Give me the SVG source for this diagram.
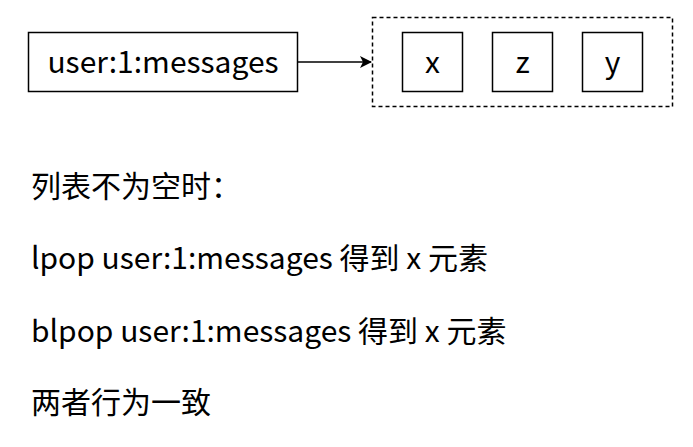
<svg xmlns="http://www.w3.org/2000/svg" width="693" height="447" viewBox="0 0 693 447">
<style>
.box{fill:#fff;stroke:#000;stroke-width:1.5}
.t{font-family:"Noto Sans CJK SC","Noto Sans",sans-serif;font-size:30px;fill:#000}
.c{text-anchor:middle}
</style>
<defs>
<marker id="ah" markerWidth="12" markerHeight="12" refX="11" refY="6" orient="auto" markerUnits="userSpaceOnUse">
<path d="M0,0 L12,6 L0,12 L3,6 Z" fill="#000"/>
</marker>
</defs>
<rect width="693" height="447" fill="#fff"/>
<g id="list">
<rect x="372.5" y="17.5" width="300" height="89" fill="none" stroke="#000" stroke-width="1.5" stroke-dasharray="4,3"/>
</g>
<g id="key">
<rect class="box" x="28.5" y="32.5" width="269" height="59"/>
<text class="t c" x="163" y="73">user:1:messages</text>
</g>
<g id="x">
<rect class="box" x="402.5" y="32.5" width="60" height="59"/>
<text class="t c" x="432.5" y="73">x</text>
</g>
<g id="z">
<rect class="box" x="492.5" y="32.5" width="60" height="59"/>
<text class="t c" x="522.5" y="73">z</text>
</g>
<g id="y">
<rect class="box" x="582.5" y="32.5" width="60" height="59"/>
<text class="t c" x="612.5" y="73">y</text>
</g>
<g id="connectors">
<line x1="298" y1="62" x2="371" y2="62" stroke="#000" stroke-width="1.5" marker-end="url(#ah)"/>
</g>
<g id="notes">
<text class="t" x="31" y="197">列表不为空时：</text>
<text class="t" x="31" y="269">lpop user:1:messages 得到 x 元素</text>
<text class="t" x="31" y="342">blpop user:1:messages 得到 x 元素</text>
<text class="t" x="31" y="413">两者行为一致</text>
</g>
</svg>
